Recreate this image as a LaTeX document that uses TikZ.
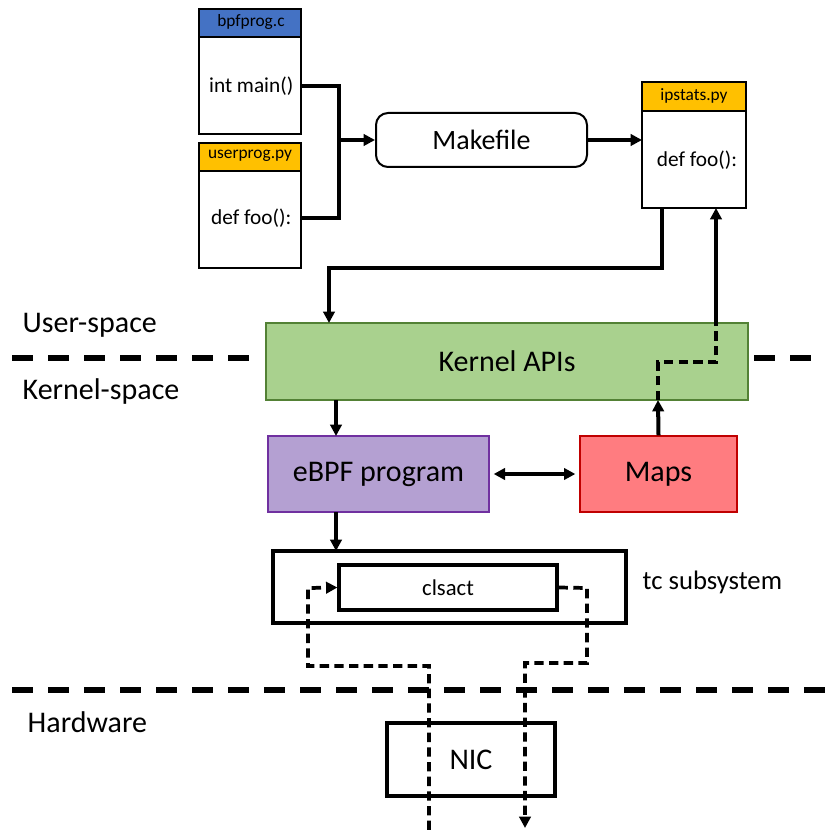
\documentclass[tikz,border=0pt]{standalone}
\usepackage{fontspec}
\setmainfont{Carlito}
\usetikzlibrary{arrows.meta,calc}
\definecolor{hdrblue}{HTML}{4472C4}
\definecolor{hdrorange}{HTML}{FFC000}
\definecolor{apigreen}{HTML}{A9D18E}
\definecolor{apiedge}{HTML}{538135}
\definecolor{ebpffill}{HTML}{B4A0D2}
\definecolor{ebpfedge}{HTML}{7030A0}
\definecolor{mapsfill}{HTML}{FF7C80}
\definecolor{mapsedge}{HTML}{C00000}
\newcommand{\fs}[1]{\fontsize{#1}{#1}\selectfont}
\tikzset{
  tip/.tip={Triangle[length=8.5pt,width=8.5pt]},
  flow/.style={line width=3pt, -tip},
  wire/.style={line width=3pt},
  dflow/.style={line width=2.8pt, dash pattern=on 7pt off 4pt, -tip},
  dwire/.style={line width=2.8pt, dash pattern=on 7pt off 4pt},
  sep/.style={line width=5pt, dash pattern=on 15.75pt off 11.25pt},
  filebody/.style={draw, line width=1.2pt, fill=white},
  filehead/.style={draw, line width=1.2pt},
  colbox/.style={line width=1pt},
}
\begin{document}
\begin{tikzpicture}[x=0.75pt, y=-0.75pt]
\useasboundingbox (0,0) rectangle (829,830);

% separators between the layers
\draw[sep] (12,358) -- (255,358);
\draw[sep] (754,358) -- (823,358);
\draw[sep] (12,690) -- (829,690);

\node[anchor=west, font=\fs{22.5}] (lu) at (18,325) {User-space};
\node[anchor=west, font=\fs{22.5}] (lk) at (18,391) {Kernel-space};
\node[anchor=west, font=\fs{22.5}] (lh) at (23,722) {Hardware};

% source files
\draw[filehead, fill=hdrblue] (199,9) rectangle (301,37);
\node[font=\fs{13}] (bh) at (251,22) {bpfprog.c};
\draw[filebody] (199,37) rectangle (301,134);
\node[anchor=east, font=\fs{16}] (bpf) at (298,86) {int main()};
\coordinate (bpfout) at (301,86);

\draw[filehead, fill=hdrorange] (199,143) rectangle (301,171);
\node[font=\fs{13}] (uh) at (250,156) {userprog.py};
\draw[filebody] (199,171) rectangle (301,268);
\node[anchor=east, font=\fs{16}] (usr) at (296,218) {def foo():};
\coordinate (usrout) at (301,218);

% build step
\node[draw, line width=1.5pt, rounded corners=9pt, minimum width=211*0.75pt, minimum height=54*0.75pt, font=\fs{21}] (mk) at (481.5,140) {Makefile};
\coordinate (join) at (339,140);
\draw[wire] (bpfout) -- (339,86) -- (join);
\draw[wire] (usrout) -- (339,218) -- (join);
\draw[flow] (join) -- (mk.west);

% generated user program
\draw[filehead, fill=hdrorange] (642,82) rectangle (746,111);
\node[font=\fs{13}] (ih) at (694,96) {ipstats.py};
\draw[filebody] (642,111) rectangle (746,208);
\node[font=\fs{16}] (ips) at (697,160) {def foo():};
\coordinate (ipsin) at (642,140);
\coordinate (ipsa) at (662,208);
\coordinate (ipsb) at (716,208);
\draw[flow] (mk.east) -- (ipsin);

% kernel side
\node[draw=apiedge, fill=apigreen, colbox, minimum width=482*0.75pt, minimum height=77*0.75pt, font=\fs{22.5}] (api) at (507,361.5) {Kernel APIs};
\node[draw=ebpfedge, fill=ebpffill, colbox, minimum width=221*0.75pt, minimum height=76*0.75pt, font=\fs{22.5}] (ebpf) at (378.5,474) {eBPF program};
\node[draw=mapsedge, fill=mapsfill, colbox, minimum width=157*0.75pt, minimum height=76*0.75pt, font=\fs{22.5}] (maps) at (658.5,474) {Maps};

\draw[flow] (ipsa) -- (662,268) -- (329,268) -- (329,323);
\draw[flow] (336,400) -- (336,436);
\draw[line width=3pt, tip-tip] ($(ebpf.east)+(4,0)$) -- ($(maps.west)+(-4,0)$);
\draw[flow] (maps.north) -- (658,400);
\draw[dwire] (658,400) -- (658,362) -- (716,362) -- (716,323);
\draw[flow] (716,323) -- (ipsb);

% tc subsystem
\draw[line width=2.8pt] (273,551) rectangle (626,623);
\node[draw, line width=2.4pt, fill=white, minimum width=218*0.75pt, minimum height=45*0.75pt, font=\fs{17}] (cls) at (448,587.5) {clsact};
\node[anchor=west, font=\fs{20}] (tcl) at (638,582) {tc subsystem};
\draw[flow] (336,512) -- (336,551);

% NIC
\node[draw, line width=2.6pt, minimum width=168*0.75pt, minimum height=73*0.75pt, font=\fs{22.5}] (nic) at (471,759.5) {NIC};

% packet paths through clsact
\coordinate (inbot) at (429,830);
\coordinate (outbot) at (525,828);
\draw[dflow] (inbot) -- (429,666) -- (308,666) -- (308,588) -- (cls.west);
\draw[dflow] (cls.east) -- (587,588) -- (587,663) -- (525,663) -- (outbot);
\end{tikzpicture}
\end{document}
